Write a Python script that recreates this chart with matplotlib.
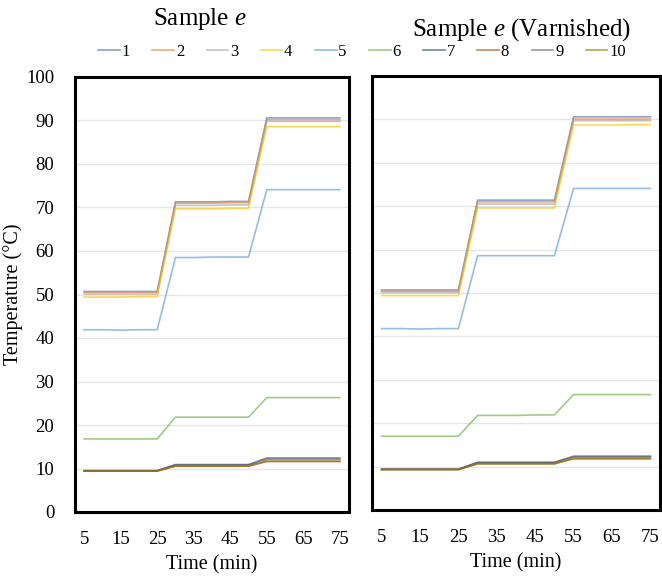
import matplotlib
matplotlib.use("Agg")
from matplotlib import pyplot as plt

plt.rcParams['font.family'] = ['Liberation Serif', 'DejaVu Serif']
plt.rcParams['mathtext.fontset'] = 'custom'
plt.rcParams['mathtext.it'] = 'Liberation Serif:italic'
plt.rcParams['mathtext.rm'] = 'Liberation Serif'

# time points (min)
time = [5, 10, 15, 20, 25, 30, 35, 40, 45, 50, 55, 60, 65, 70, 75]
xticks = [5, 15, 25, 35, 45, 55, 65, 75]
labels = ['1', '2', '3', '4', '5', '6', '7', '8', '9', '10']
colors = ['#4472C4', '#ED7D31', '#A5A5A5', '#FFC000', '#5B9BD5',
          '#70AD47', '#264478', '#9E480E', '#636363', '#997300']

# Sample e, one row per sensor
sample_e = [
    [50.7, 50.7, 50.7, 50.7, 50.7, 71.3, 71.3, 71.3, 71.4, 71.4, 90.6, 90.6, 90.6, 90.6, 90.6],
    [50.5, 50.5, 50.5, 50.5, 50.5, 71.0, 71.0, 71.0, 71.1, 71.1, 90.2, 90.2, 90.2, 90.2, 90.2],
    [50.1, 50.1, 50.1, 50.1, 50.1, 70.5, 70.5, 70.5, 70.6, 70.6, 89.8, 89.8, 89.8, 89.8, 89.8],
    [49.4, 49.4, 49.4, 49.5, 49.5, 69.7, 69.7, 69.7, 69.8, 69.8, 88.6, 88.6, 88.6, 88.6, 88.6],
    [41.9, 41.9, 41.8, 41.9, 41.9, 58.5, 58.5, 58.6, 58.6, 58.6, 74.1, 74.1, 74.1, 74.1, 74.1],
    [16.8, 16.8, 16.8, 16.8, 16.8, 21.8, 21.8, 21.8, 21.8, 21.8, 26.3, 26.3, 26.3, 26.3, 26.3],
    [9.5, 9.5, 9.5, 9.5, 9.5, 10.9, 10.9, 10.9, 10.9, 10.9, 12.4, 12.4, 12.4, 12.4, 12.4],
    [9.4, 9.4, 9.4, 9.4, 9.4, 10.6, 10.6, 10.6, 10.6, 10.6, 11.6, 11.6, 11.6, 11.6, 11.6],
    [9.5, 9.5, 9.5, 9.5, 9.5, 10.8, 10.8, 10.8, 10.8, 10.8, 12.1, 12.1, 12.1, 12.1, 12.1],
    [9.4, 9.4, 9.4, 9.4, 9.4, 10.5, 10.5, 10.5, 10.5, 10.5, 11.7, 11.7, 11.7, 11.7, 11.7],
]

# Sample e (Varnished)
sample_e_varnished = [
    [50.7, 50.7, 50.7, 50.7, 50.7, 71.4, 71.4, 71.4, 71.4, 71.4, 90.6, 90.6, 90.6, 90.6, 90.6],
    [50.4, 50.4, 50.4, 50.4, 50.4, 71.0, 71.0, 71.0, 71.0, 71.0, 90.1, 90.1, 90.1, 90.1, 90.1],
    [50.1, 50.1, 50.1, 50.1, 50.1, 70.5, 70.5, 70.5, 70.5, 70.5, 89.7, 89.7, 89.7, 89.7, 89.7],
    [49.4, 49.4, 49.4, 49.4, 49.4, 69.6, 69.6, 69.6, 69.6, 69.6, 88.7, 88.7, 88.7, 88.8, 88.8],
    [41.8, 41.8, 41.7, 41.8, 41.8, 58.6, 58.6, 58.6, 58.6, 58.6, 74.1, 74.1, 74.1, 74.1, 74.1],
    [17.0, 17.0, 17.0, 17.0, 17.0, 21.8, 21.8, 21.8, 21.9, 21.9, 26.6, 26.6, 26.6, 26.6, 26.6],
    [9.4, 9.4, 9.4, 9.4, 9.4, 11.0, 11.0, 11.0, 11.0, 11.0, 12.4, 12.4, 12.4, 12.4, 12.4],
    [9.3, 9.3, 9.3, 9.3, 9.3, 10.7, 10.7, 10.7, 10.7, 10.7, 11.8, 11.8, 11.8, 11.8, 11.8],
    [9.4, 9.4, 9.4, 9.4, 9.4, 10.9, 10.9, 10.9, 10.9, 10.9, 12.2, 12.2, 12.2, 12.2, 12.2],
    [9.3, 9.3, 9.3, 9.3, 9.3, 10.6, 10.6, 10.6, 10.6, 10.6, 11.9, 11.9, 11.9, 11.9, 11.9],
]

fig = plt.figure(figsize=(6.62, 5.79), dpi=100)
ax1 = fig.add_axes([75/662, 67/579, 274/662, 435/579])
ax2 = fig.add_axes([372/662, 69/579, 288/662, 434/579])

for ax, data in [(ax1, sample_e), (ax2, sample_e_varnished)]:
    for i, row in enumerate(data):
        ax.plot(time, row, color=colors[i], lw=1.2, alpha=0.65, label=labels[i])
    ax.set_xlim(2.5, 77.5)
    ax.set_ylim(0, 100)
    ax.set_yticks(range(0, 101, 10))
    ax.set_xticks(xticks)
    ax.grid(axis='y', color='#e6e6e6', lw=1)
    ax.set_axisbelow(True)
    for s in ax.spines.values():
        s.set_linewidth(2.2)
        s.set_color('black')
    ax.tick_params(length=0, labelsize=13.5, pad=14)
    ax.set_xlabel('Time (min)', fontsize=14.5, labelpad=5)

ax1.tick_params(axis='y', pad=15)
ax2.set_yticklabels([])
ax1.set_ylabel('Temperature (°C)', fontsize=14.5, labelpad=2)

fig.text(200/662, 1 - 19/579, 'Sample $e$', ha='center', va='center', fontsize=18)
fig.text(521/662, 1 - 30/579, 'Sample $e$ (Varnished)', ha='center', va='center', fontsize=18)

handles, labs = ax1.get_legend_handles_labels()
fig.legend(handles, labs, loc='center', bbox_to_anchor=(362/662, 1 - 52/579), ncol=10,
           frameon=False, fontsize=12, handlelength=1.3, handletextpad=0.1,
           columnspacing=1.35)

fig.savefig('out.png', dpi=100)
